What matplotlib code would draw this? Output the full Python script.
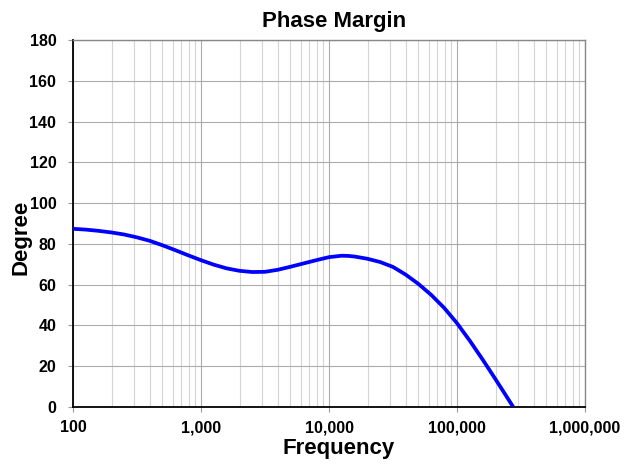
import matplotlib
matplotlib.use("Agg")
import matplotlib.pyplot as plt
from matplotlib.ticker import FixedLocator, FuncFormatter, NullFormatter

plt.rcParams['font.family'] = ['Liberation Sans', 'DejaVu Sans']
plt.rcParams['font.weight'] = 'bold'

# Data
freq = [100, 126, 158, 200, 251, 316, 398, 501, 631, 794,
        1000, 1259, 1585, 1995, 2512, 3162, 3981, 5012, 6310, 7943,
        10000, 12589, 14125, 15849, 19953, 25119, 31623, 39811, 50119, 63096,
        79433, 100000, 125893, 158489, 199526, 251189, 275000]
degree = [87.4, 87.0, 86.4, 85.6, 84.6, 83.2, 81.5, 79.3, 76.9, 74.4,
          72.0, 69.8, 68.0, 66.8, 66.2, 66.3, 67.3, 68.8, 70.4, 72.0,
          73.5, 74.2, 74.1, 73.8, 72.7, 71.1, 68.7, 64.9, 60.3, 54.9,
          48.6, 41.1, 32.5, 23.3, 13.7, 3.9, 0.0]

x_ticks = [100, 1000, 10000, 100000, 1000000]
y_ticks = [0, 20, 40, 60, 80, 100, 120, 140, 160, 180]
title = "Phase Margin"
xlabel = "Frequency"
ylabel = "Degree"

W, H = 633, 468
fig = plt.figure(figsize=(W / 100, H / 100), dpi=100)
ax = fig.add_axes([73 / W, 1 - 407 / H, (585 - 73) / W, (407 - 40) / H])

ax.set_xscale('log')
ax.set_xlim(100, 1000000)
ax.set_ylim(0, 180)

minor = [m * 10 ** e for e in range(2, 6) for m in range(2, 10)]
ax.xaxis.set_major_locator(FixedLocator(x_ticks))
ax.xaxis.set_minor_locator(FixedLocator(minor))
ax.xaxis.set_major_formatter(FuncFormatter(lambda v, p: f"{int(round(v)):,}"))
ax.xaxis.set_minor_formatter(NullFormatter())
ax.yaxis.set_major_locator(FixedLocator(y_ticks))

ax.grid(which='major', axis='both', color='#ababab', linewidth=0.8)
ax.grid(which='minor', axis='x', color='#d4d4d4', linewidth=0.8)
ax.set_axisbelow(True)

ax.plot(freq, degree, color='#0000ff', linewidth=2.7, solid_capstyle='butt',
        solid_joinstyle='round', clip_on=True, zorder=3)

for side in ('left', 'bottom'):
    ax.spines[side].set_color('black')
    ax.spines[side].set_linewidth(1.3)
for side in ('top', 'right'):
    ax.spines[side].set_color('#888888')
    ax.spines[side].set_linewidth(1.0)

ax.tick_params(which='major', axis='both', direction='out', length=3.5,
               width=0.8, color='#999999', labelsize=11.5)
ax.tick_params(which='major', axis='x', pad=6)
ax.tick_params(which='major', axis='y', pad=8.5)
ax.tick_params(which='minor', axis='x', length=0)
for lab in ax.get_xticklabels() + ax.get_yticklabels():
    lab.set_fontweight('bold')

fig.text(334.5 / W, 1 - 26.7 / H, title, ha='center', va='baseline',
         fontsize=16, fontweight='bold')
fig.text(339 / W, 1 - 454 / H, xlabel, ha='center', va='baseline',
         fontsize=16, fontweight='bold')
fig.text(21 / W, 1 - 237.5 / H, ylabel, ha='center', va='center',
         rotation=90, fontsize=16, fontweight='bold')

fig.savefig('out.png', dpi=100)
